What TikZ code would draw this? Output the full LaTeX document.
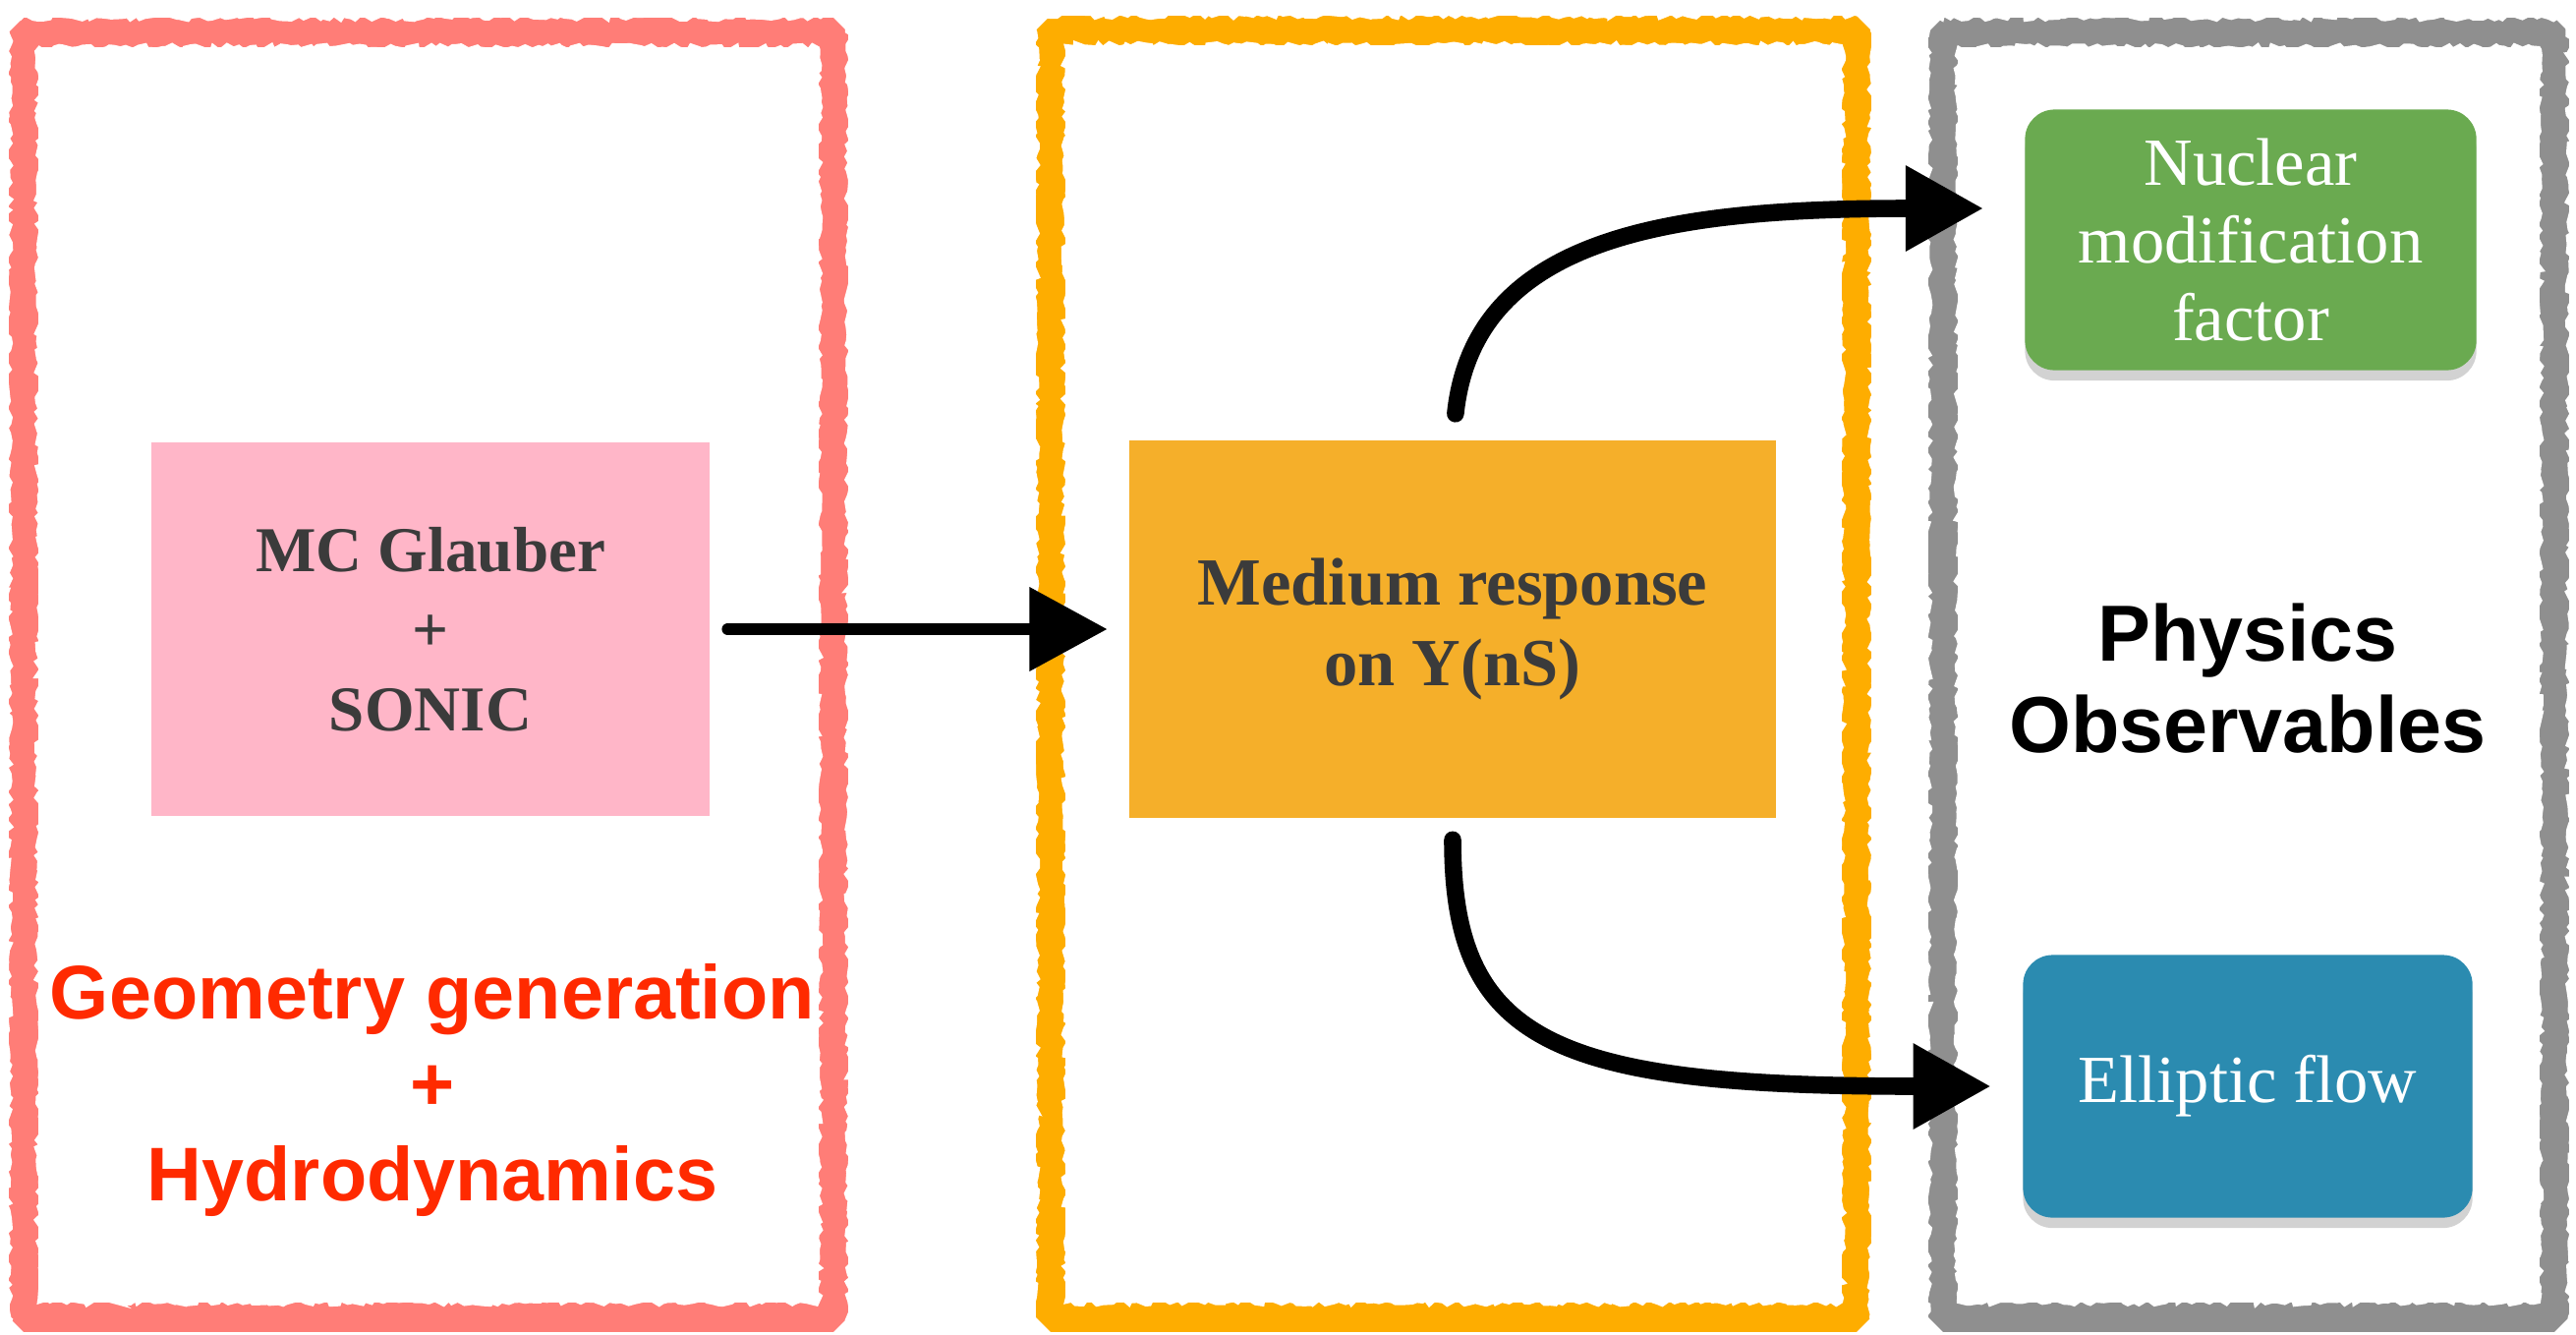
\documentclass[tikz,border=0pt]{standalone}
\usepackage{fontspec}
\setmainfont{Liberation Serif}
\setsansfont{Liberation Sans}
\usetikzlibrary{arrows.meta,shadows,calc,decorations.pathmorphing}
\definecolor{redframe}{HTML}{FF7D77}
\definecolor{orframe}{HTML}{FEAD00}
\definecolor{grframe}{HTML}{8F8F8F}
\definecolor{pinkbox}{HTML}{FFB6C8}
\definecolor{orbox}{HTML}{F5AF2A}
\definecolor{greenbox}{HTML}{6AAA50}
\definecolor{bluebox}{HTML}{2B8BB0}
\definecolor{darktext}{HTML}{3B3B3B}
\definecolor{redtext}{HTML}{FF2A00}
\begin{document}
\begin{tikzpicture}[x=0.01cm,y=-0.01cm,
  frame/.style={line width=8.6pt, line join=miter, miter limit=1.2},
  rough/.style={line width=1.2pt, white, decorate,
    decoration={random steps, segment length=1.6pt, amplitude=0.9pt}},
  flatbox/.style={inner sep=0pt, align=center, text=darktext,
    font=\bfseries\fontsize{18.5}{23}\selectfont},
  roundbox/.style={inner sep=0pt, align=center, text=white, rounded corners=0.3cm,
    font=\fontsize{19.5}{22.5}\selectfont,
    drop shadow={shadow xshift=0pt, shadow yshift=-3pt, opacity=0.35}},
  bigsans/.style={align=center, font=\sffamily\bfseries\fontsize{22}{26.4}\selectfont},
  brush/.style={line width=5pt, line cap=round, black},
  tip/.style={-{Triangle[length=22.5pt,width=23.5pt]}}]
\pgfmathsetseed{7}
\useasboundingbox (0,0) rectangle (2621,1357);
\fill[white] (0,0) rectangle (2621,1357);
% frames
\draw[frame, redframe] (24,33) rectangle (848,1340);
\draw[frame, orframe] (1069,31) rectangle (1889,1340);
\draw[frame, grframe] (1977,33) rectangle (2599,1340);
% ragged brush edges
\foreach \a/\b/\c/\d in {24/33/848/1340, 1069/31/1889/1340, 1977/33/2599/1340}{
  \draw[rough] (\a-16,\b-16) rectangle (\c+16,\d+40);
  \draw[rough] (\a+16,\b+16) rectangle (\c-16,\d-16);
}
% boxes
\node[flatbox, fill=pinkbox, minimum width=5.67cm, minimum height=3.8cm] (pink) at (438,640) {MC Glauber\\+\\SONIC};
\node[flatbox, fill=orbox, minimum width=6.57cm, minimum height=3.83cm, font=\bfseries\fontsize{19.5}{23.5}\selectfont] (medium) at (1478,640) {Medium response\\on Y(nS)};
\node[roundbox, fill=greenbox, minimum width=4.59cm, minimum height=2.65cm] (raa) at (2290,244) {Nuclear\\modification\\factor};
\node[roundbox, fill=bluebox, minimum width=4.57cm, minimum height=2.67cm] (v2) at (2287,1105) {Elliptic flow};
% texts
\node[bigsans, text=black, font=\sffamily\bfseries\fontsize{23}{26.5}\selectfont] (obs) at (2287,690) {Physics\\Observables};
\node[bigsans, text=redtext] (geo) at (440,1109) {Geometry generation\\+\\Hydrodynamics};
% arrows
\coordinate (rin) at (2018,212);
\draw[brush, line width=3.4pt, tip, shorten <=0.18cm, shorten >=0.22cm] (pink.east) -- (medium.west);
\draw[brush, tip, shorten <=0.27cm] (medium.north) .. controls (1500,240) and (1700,212) .. (rin);
\draw[brush, tip, shorten <=0.22cm, shorten >=0.32cm] (medium.south) .. controls (1478,1060) and (1580,1105) .. (v2.west);
\end{tikzpicture}
\end{document}
